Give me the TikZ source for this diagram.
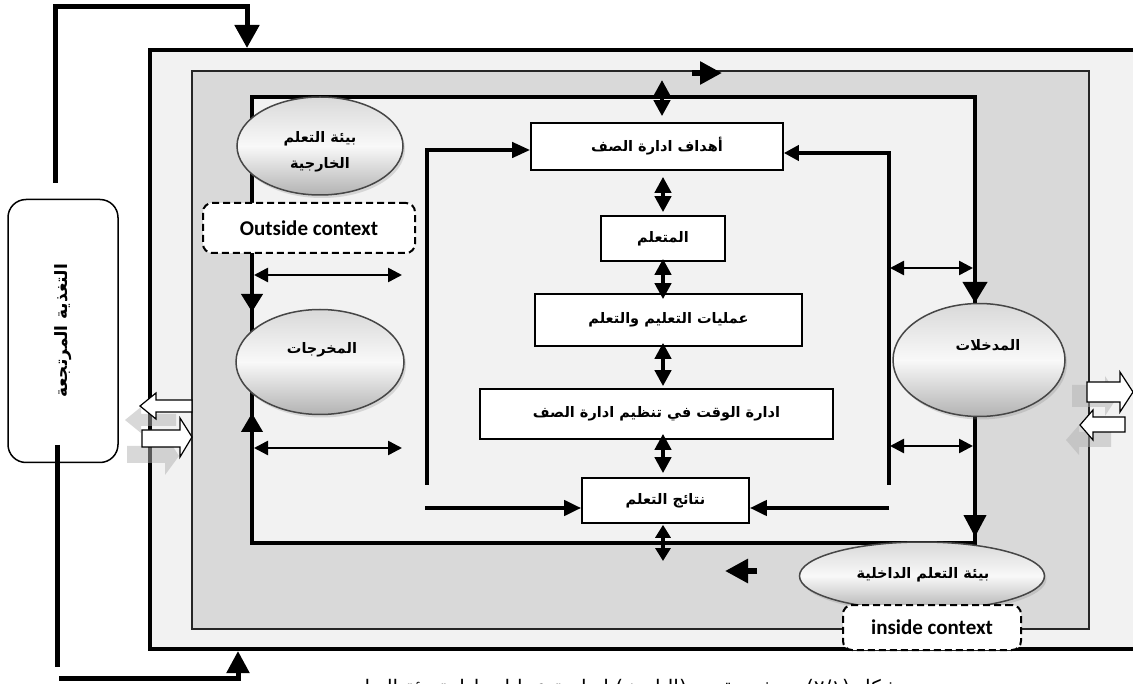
\documentclass[tikz,border=0pt]{standalone}
\usepackage{fontspec}
\usetikzlibrary{arrows.meta,shapes.geometric,shadows,calc}
\TeXXeTstate=1
\setmainfont{Carlito}
\newfontfamily\arabicfont[Script=Arabic]{DejaVu Sans}
\definecolor{lightbg}{HTML}{F2F2F2}
\definecolor{bandbg}{HTML}{D9D9D9}
\begin{document}
\begin{tikzpicture}[x=1pt,y=-1pt,
  thk/.style={line width=4pt, line join=miter},
  fbline/.style={line width=5pt, line join=miter},
  bigtip/.style={-{Triangle[length=#1pt,width=#1pt]}},
  dblv/.style={line width=4pt, {Triangle[length=16pt,width=16pt]}-{Triangle[length=16pt,width=16pt]}},
  dblvs/.style={line width=4pt, {Triangle[length=13pt,width=15pt]}-{Triangle[length=13pt,width=15pt]}},
  dblh/.style={line width=2.5pt, {Triangle[length=14pt,width=14pt]}-{Triangle[length=14pt,width=14pt]}},
  cbox/.style={draw, line width=1.6pt, fill=white, inner sep=0pt,
    font=\arabicfont\bfseries\fontsize{14.5}{17}\selectfont},
  ell/.style={ellipse, draw=gray!55!black, line width=1.5pt, inner sep=0pt,
    top color=gray!30, bottom color=gray!60, middle color=white!95!gray,
    drop shadow={shadow xshift=2pt, shadow yshift=-3pt, opacity=0.25}},
  etext/.style={font=\arabicfont\bfseries\fontsize{14.5}{26}\selectfont, align=center, inner sep=0pt},
  ctx/.style={draw, line width=2pt, dash pattern=on 7pt off 4pt, rounded corners=9pt,
    fill=white, inner sep=0pt, font=\bfseries\fontsize{21}{24}\selectfont},
  blockarrow/.style={draw=black, line width=1.2pt, fill=white, line join=miter},
  blockshadow/.style={fill=gray!60, opacity=0.5}
]
\clip (0,0) rectangle (1133,684);
\fill[white] (0,0) rectangle (1133,684);

% frames
\draw[line width=4pt, fill=lightbg] (150,50) rectangle (1150,649);
\draw[line width=2.5pt, draw=black!85, fill=bandbg] (192,71) rectangle (1089,629);
\coordinate (iTL) at (252,97);
\coordinate (iBR) at (975,543);
\draw[thk, fill=lightbg] (iTL) rectangle (iBR);

% band arrows
\coordinate (bA1) at (692,73);
\coordinate (bA2) at (722,73);
\draw[line width=6pt, bigtip=22] (bA1) -- (bA2);
\coordinate (bB1) at (757,571);
\coordinate (bB2) at (725,571);
\draw[line width=6pt, bigtip=23] (bB1) -- (bB2);

% feedback box and loops
\node[draw, line width=1.5pt, rounded corners=18pt, fill=white, rotate=90,
  minimum width=263pt, minimum height=110pt, inner sep=0pt,
  font=\arabicfont\bfseries\fontsize{17}{20}\selectfont] (fb) at (63,331)
  {\beginR التغذية المرتجعة\endR};
\coordinate (fbT) at (55,183);
\coordinate (fbIn) at (247,48);
\draw[fbline, -{Triangle[length=23pt,width=24pt]}] (fbT) |- (fbIn |- 0,7) -- (fbIn);
\coordinate (fbB) at (57,445);
\draw[fbline] (fbB) -- (57,667);
\coordinate (fbL) at (59,678);
\coordinate (fbUp) at (238,651);
\draw[fbline, -{Triangle[length=22pt,width=22pt]}] (fbL) -| (fbUp);

% block arrows left
\fill[blockshadow] (125,420) -- (141,407) -- (141,414) -- (176,414) -- (176,426) -- (141,426) -- (141,433) -- cycle;
\fill[blockshadow] (127,446) -- (165,446) -- (165,434) -- (179,456) -- (165,475) -- (165,463) -- (127,463) -- cycle;
\draw[blockarrow] (140,406) -- (156,393) -- (156,400) -- (192,400) -- (192,412) -- (156,412) -- (156,419) -- cycle;
\draw[blockarrow] (142,430) -- (180,430) -- (180,418) -- (192,437) -- (180,457) -- (180,447) -- (142,447) -- cycle;
% block arrows right
\fill[blockshadow] (1072,385) -- (1105,385) -- (1105,376) -- (1118,396) -- (1105,416) -- (1105,407) -- (1072,407) -- cycle;
\fill[blockshadow] (1066,440) -- (1079,425) -- (1079,432) -- (1111,432) -- (1111,447) -- (1079,447) -- (1079,455) -- cycle;
\draw[blockarrow] (1087,382) -- (1120,382) -- (1120,372) -- (1133,392) -- (1120,412) -- (1120,402) -- (1087,402) -- cycle;
\draw[blockarrow] (1080,425) -- (1093,410) -- (1093,417) -- (1125,417) -- (1125,432) -- (1093,432) -- (1093,440) -- cycle;

% central boxes
\node[cbox, minimum width=252pt, minimum height=47pt] (goals) at (657,146.5) {\beginR أهداف ادارة الصف\endR};
\node[cbox, minimum width=124pt, minimum height=45pt] (learner) at (663,238.5) {\beginR المتعلم\endR};
\node[cbox, minimum width=267pt, minimum height=52pt] (proc) at (668.5,320) {\beginR عمليات التعليم والتعلم\endR};
\node[cbox, minimum width=353pt, minimum height=50pt] (time) at (656.5,414) {\beginR ادارة الوقت في تنظيم ادارة الصف\endR};
\node[cbox, minimum width=167pt, minimum height=45pt] (outc) at (665.5,500.5) {\beginR نتائج التعلم\endR};

% central double arrows
\coordinate (topA) at (662,80);
\draw[dblv] (topA) -- ($(goals.north -| topA)+(0,-6)$);
\draw[dblv] ($(goals.south -| learner)+(0,6)$) -- ($(learner.north)+(0,-3)$);
\draw[dblv] ($(learner.south)+(0,-3)$) -- ($(proc.north -| learner)+(0,6)$);
\draw[dblv] ($(proc.south -| learner)+(0,-4)$) -- ($(time.north -| learner)+(0,-2)$);
\draw[dblv] ($(time.south -| learner)+(0,-6)$) -- ($(outc.north -| learner)+(0,-4)$);
\coordinate (botA) at (663,561);
\draw[dblvs] ($(outc.south -| botA)+(0,1)$) -- (botA);

% brackets
\coordinate (lbT) at (427,485);
\coordinate (rbT) at (889,485);
\draw[thk, -{Triangle[length=18pt,width=15pt]}] (lbT) |- ($(goals.west)+(0,3.5)$);
\draw[thk, -{Triangle[length=15pt,width=15pt]}] (rbT) |- ($(goals.east)+(0,6.5)$);
\coordinate (lbB) at (425,508);
\coordinate (rbB) at (889,508);
\draw[thk, -{Triangle[length=17pt,width=15pt]}] (lbB) -- (lbB -| outc.west);
\draw[thk, -{Triangle[length=17pt,width=15pt]}] (rbB) -- (rbB -| outc.east);

% arrows on inner frame sides
\coordinate (lA1) at (252,280);
\coordinate (lA2) at (252,312);
\draw[thk, -{Triangle[length=18pt,width=21pt]}] (lA1) -- (lA2);
\coordinate (lB1) at (252,460);
\coordinate (lB2) at (252,413);
\draw[thk, -{Triangle[length=19pt,width=21pt]}] (lB1) -- (lB2);
\coordinate (rA1) at (975,250);
\coordinate (rA2) at (975,303);
\draw[thk, -{Triangle[length=21pt,width=24pt]}] (rA1) -- (rA2);
\coordinate (rB1) at (975,480);
\coordinate (rB2) at (975,537);
\draw[thk, -{Triangle[length=22pt,width=22pt]}] (rB1) -- (rB2);

% horizontal double arrows
\coordinate (h1a) at (254,275); \coordinate (h1b) at (402,275);
\coordinate (h2a) at (254,448); \coordinate (h2b) at (402,448);
\coordinate (h3a) at (890,268); \coordinate (h3b) at (973,268);
\coordinate (h4a) at (890,446); \coordinate (h4b) at (973,446);
\draw[dblh] (h1a) -- (h1b);
\draw[dblh] (h2a) -- (h2b);
\draw[dblh] (h3a) -- (h3b);
\draw[dblh] (h4a) -- (h4b);

% ellipses
\node[ell, minimum width=166pt, minimum height=98pt] (extE) at (320,146) {};
\node[etext] (extT) at (320,152) {\beginR بيئة التعلم\endR\\\beginR الخارجية\endR};
\node[ell, minimum width=168pt, minimum height=105pt] (outE) at (320,362) {};
\node[etext] (outT) at (322,350) {\beginR المخرجات\endR};
\node[ell, minimum width=172pt, minimum height=113pt] (inE) at (979,360) {};
\node[etext] (inT) at (988,345) {\beginR المدخلات\endR};
\node[ell, minimum width=245pt, minimum height=68pt] (envE) at (922,576) {};
\node[etext] (envT) at (923,575) {\beginR بيئة التعلم الداخلية\endR};

% context boxes
\node[ctx, minimum width=212pt, minimum height=50pt] (outside) at (309,228) {Outside context};
\node[ctx, minimum width=178pt, minimum height=45pt] (inside) at (932,627.5) {inside context};

% caption (cut by the page edge, as in the reference)
\node[anchor=base, inner sep=0pt, font=\arabicfont\fontsize{20}{24}\selectfont] (cap) at (625,694)
  {\beginR شكل (٢/١) نموذج مقترح (الباحث) لنظرية عمليات ادارة بيئة التعلم\endR};
\end{tikzpicture}
\end{document}
